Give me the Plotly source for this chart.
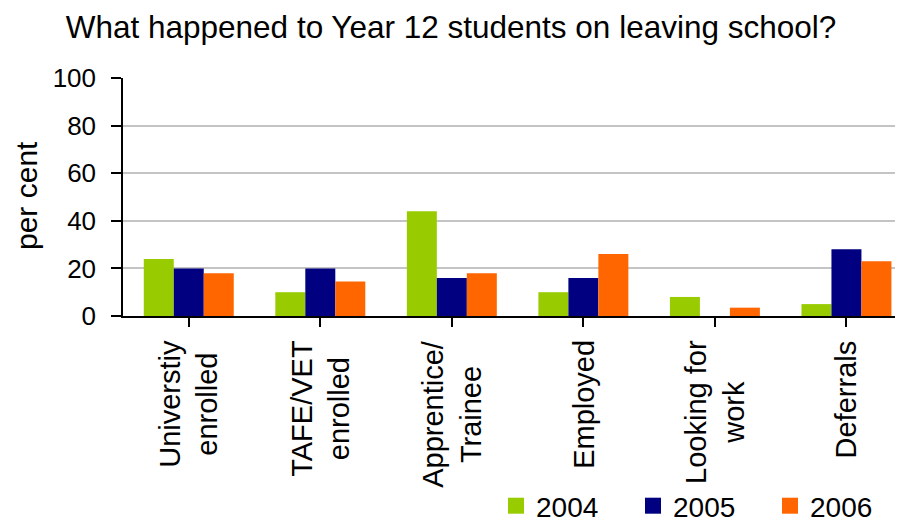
import plotly.graph_objects as go

categories = ["Universtiy<br>enrolled", "TAFE/VET<br>enrolled", "Apprentice/<br>Trainee",
              "Employed", "Looking for<br>work", "Deferrals"]
years = ["2004", "2005", "2006"]
values_2004 = [24, 10, 44, 10, 8, 5]
values_2005 = [20, 20, 16, 16, 0, 28]
values_2006 = [18, 14.5, 18, 26, 3.5, 23]
colors = ["#99CC00", "#000080", "#FF6600"]
y_ticks = [0, 20, 40, 60, 80, 100]

FONT = "Liberation Sans, Arial, sans-serif"
OFF = 8                      # default page body margin
W, H = 903 - OFF, 526 - OFF
L, T = 123 - OFF, 78 - OFF
B = H - (316 - OFF)
PW, PH = W - L, 316 - 78

fig = go.Figure()
xs = list(range(len(categories)))
for name, vals, col in zip(years, [values_2004, values_2005, values_2006], colors):
    fig.add_trace(go.Bar(x=xs, y=vals, name=name, marker=dict(color=col, line=dict(width=0)),
                         showlegend=False))
    fig.add_trace(go.Scatter(x=[None], y=[None], mode="markers", name=name,
                             marker=dict(symbol="square", size=16, color=col)))

annotations = []
for i, c in enumerate(categories):
    annotations.append(dict(x=i, xref="x", y=(316 - 338) / PH, yref="paper",
                            text=c, textangle=-90, showarrow=False, xanchor="center",
                            yanchor="top", align="center",
                            font=dict(family=FONT, size=29, color="#000")))
annotations.append(dict(x=(26 - 123) / PW, xref="paper", y=(316 - 196) / PH, yref="paper",
                        text="per cent", textangle=-90, showarrow=False, xanchor="center",
                        yanchor="middle", font=dict(family=FONT, size=30, color="#000")))

fig.update_layout(
    width=W, height=H,
    margin=dict(l=L, r=0, t=T, b=B, pad=0, autoexpand=False),
    paper_bgcolor="white", plot_bgcolor="white",
    barmode="group", bargap=0.316, bargroupgap=0,
    title=dict(text="What happened to Year 12 students on leaving school?",
               x=(451 - OFF) / W, xref="container", xanchor="center",
               y=1 - (27 - OFF) / H, yref="container", yanchor="middle",
               font=dict(family=FONT, size=31.5, color="#000")),
    xaxis=dict(range=[-0.5, 5.43], tickvals=xs, showticklabels=False,
               showline=True, linecolor="black", linewidth=1.5,
               ticks="outside", tickson="boundaries", ticklen=9, tickcolor="black", tickwidth=1.5,
               showgrid=False, zeroline=False, fixedrange=True),
    yaxis=dict(range=[0, 100], tickvals=y_ticks, showline=True, linecolor="black", linewidth=1.5,
               ticks="outside", ticklen=10, tickcolor="black", tickwidth=1.5,
               ticklabelstandoff=10,
               showgrid=True, gridcolor="#c4c4c4", gridwidth=1.5, zeroline=False,
               tickfont=dict(family=FONT, size=26, color="#000")),
    legend=dict(orientation="h", x=(496 - 123) / PW, xanchor="left",
                y=(316 - 506) / PH, yanchor="middle",
                entrywidth=92, entrywidthmode="pixels",
                font=dict(family=FONT, size=28, color="#000"), bgcolor="rgba(0,0,0,0)"),
    annotations=annotations,
)

fig.write_html("out.html")
